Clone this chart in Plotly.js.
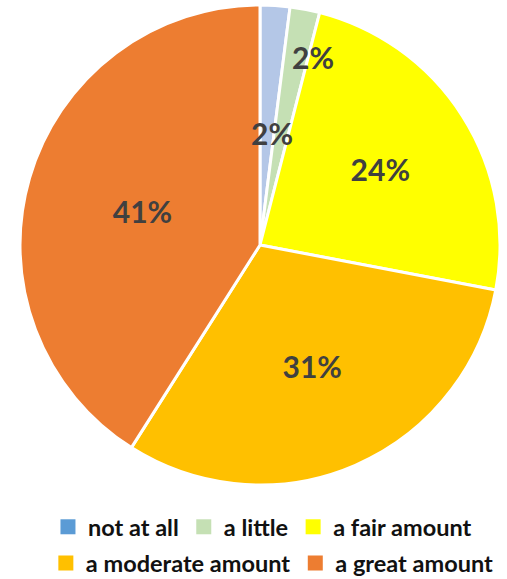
<!DOCTYPE html>
<html><head><meta charset="utf-8">
<script src="https://cdn.plot.ly/plotly-3.0.1.min.js"></script>
<style>html,body{margin:0;padding:0;background:#fff}#chart{width:507px;height:579px}</style>
</head><body><div id="chart"></div>
<script>
const categories = ['not at all', 'a little', 'a fair amount', 'a moderate amount', 'a great amount'];
const values = [2, 2, 24, 31, 41];
const sliceColors = ['#B4C7E7', '#C5E0B4', '#FFFF00', '#FFC000', '#ED7D31'];
const legendColors = ['#5B9BD5', '#C5E0B4', '#FFFF00', '#FFC000', '#ED7D31'];
const legendRow = ['legend', 'legend', 'legend', 'legend2', 'legend2'];
const total = values.reduce((a, b) => a + b, 0);
const pctText = values.map(v => Math.round(v / total * 100) + '%');
// small slices get their labels as annotations (label positions only)
const smallLabelPos = [[0.524, 0.733], [0.607, 0.892]];

const FONT = 'Lato, "Open Sans", sans-serif';

const pie = {
  type: 'pie',
  labels: categories,
  values: values,
  sort: false,
  direction: 'clockwise',
  rotation: 0,
  showlegend: false,
  marker: {colors: sliceColors, line: {color: '#FFFFFF', width: 3}},
  text: pctText,
  texttemplate: values.map((v, i) => i < 2 ? '' : '%{text}'),
  textinfo: 'text',
  textposition: 'inside',
  insidetextorientation: 'horizontal',
  textfont: {family: FONT, size: 30, color: '#404040', weight: 'bold'},
  hoverinfo: 'label+percent'
};

// legend-only entries (no data drawn), split into two centred rows
const legendTraces = categories.map((c, i) => ({
  type: 'scatter', mode: 'markers', x: [null], y: [null],
  name: c, legend: legendRow[i], showlegend: true,
  marker: {symbol: 'square', size: 15, color: legendColors[i]},
  hoverinfo: 'skip'
}));

const annotations = smallLabelPos.map((p, i) => ({
  xref: 'paper', yref: 'paper', x: p[0], y: p[1], showarrow: false,
  xanchor: 'center', yanchor: 'middle',
  text: '<b>' + pctText[i] + '</b>',
  font: {family: FONT, size: 30, color: '#404040'}
}));

const legendFont = {family: FONT, size: 23.5, color: '#111111', weight: 'bold'};

const layout = {
  width: 507, height: 579,
  margin: {l: 13, r: 0, t: 5, b: 94, autoexpand: false},
  paper_bgcolor: '#FFFFFF',
  plot_bgcolor: 'rgba(0,0,0,0)',
  xaxis: {visible: false},
  yaxis: {visible: false},
  showlegend: true,
  legend: {orientation: 'h', x: 0.505, xanchor: 'center', y: -0.0875, yanchor: 'middle',
           font: legendFont, itemclick: false, bgcolor: 'rgba(0,0,0,0)'},
  legend2: {orientation: 'h', x: 0.525, xanchor: 'center', y: -0.163, yanchor: 'middle',
            font: legendFont, itemclick: false, bgcolor: 'rgba(0,0,0,0)'},
  annotations: annotations
};

Plotly.newPlot('chart', [pie].concat(legendTraces), layout, {displayModeBar: false, staticPlot: true});
</script></body></html>
